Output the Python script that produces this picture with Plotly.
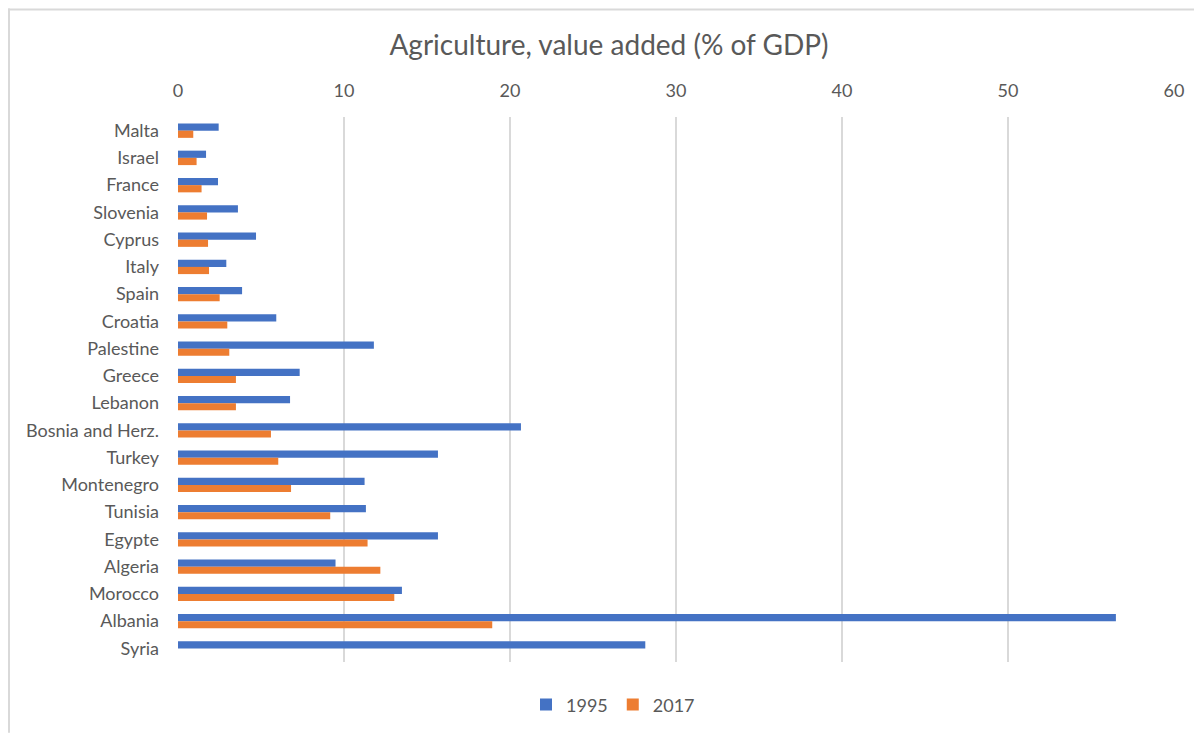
import plotly.graph_objects as go

countries = ["Malta", "Israel", "France", "Slovenia", "Cyprus", "Italy", "Spain", "Croatia",
             "Palestine", "Greece", "Lebanon", "Bosnia and Herz.", "Turkey", "Montenegro",
             "Tunisia", "Egypte", "Algeria", "Morocco", "Albania", "Syria"]
v1995 = [2.45, 1.69, 2.41, 3.61, 4.70, 2.91, 3.86, 5.92, 11.8, 7.33, 6.75, 20.66, 15.66,
         11.24, 11.32, 15.66, 9.49, 13.49, 56.5, 28.15]
v2017 = [0.92, 1.12, 1.42, 1.75, 1.81, 1.87, 2.51, 2.97, 3.09, 3.49, 3.49, 5.60, 6.04,
         6.81, 9.17, 11.42, 12.19, 13.03, 18.93, None]
x_ticks = [0, 10, 20, 30, 40, 50, 60]

# figure is placed at (8, 8) in the page
W, H = 1194, 727
L, T = 170, 109
plot_right, plot_bottom = 1166, 656
R, B = W - plot_right, H - plot_bottom
pw, ph = plot_right - L, plot_bottom - T

def px(x):
    return (x - L) / pw

def py(y):
    return (plot_bottom - y) / ph

fig = go.Figure()
fig.add_trace(go.Bar(y=countries, x=v1995, name="1995", orientation="h",
                     marker=dict(color="#4472C4", line=dict(width=0))))
fig.add_trace(go.Bar(y=countries, x=v2017, name="2017", orientation="h",
                     marker=dict(color="#ED7D31", line=dict(width=0))))

font_color = "#595959"
fig.update_layout(
    width=W, height=H,
    margin=dict(l=L, r=R, t=T, b=B),
    paper_bgcolor="white", plot_bgcolor="white",
    barmode="group", bargap=0.47, bargroupgap=0,
    font=dict(family="Lato, Open Sans, sans-serif", color=font_color, size=18),
    title=dict(text="Agriculture, value added (% of GDP)", xref="container",
               x=601 / W, xanchor="center",
               yref="container", y=1 - 37 / H, yanchor="middle",
               font=dict(size=28, color=font_color)),
    xaxis=dict(side="top", range=[0, 60], tickvals=x_ticks, showgrid=True,
               gridcolor="#D9D9D9", gridwidth=1.5, zeroline=False, showline=False,
               ticks="", ticklabelstandoff=15, tickfont=dict(size=18, color=font_color),
               fixedrange=True),
    yaxis=dict(categoryorder="array", categoryarray=countries, autorange="reversed",
               showgrid=False, zeroline=False, showline=False, ticks="",
               ticklabelstandoff=18, tickfont=dict(size=18, color=font_color)),
    legend=dict(orientation="h", x=px(605), xanchor="center", y=py(699), yanchor="middle",
                font=dict(size=18, color=font_color), itemwidth=30,
                traceorder="normal"),
    showlegend=True,
)

# chart area border (left and top edges visible)
fig.add_shape(type="line", xref="paper", yref="paper",
              x0=px(1), x1=px(1), y0=py(0), y1=py(H),
              line=dict(color="#D9D9D9", width=2))
fig.add_shape(type="line", xref="paper", yref="paper",
              x0=px(0), x1=px(W), y0=py(1), y1=py(1),
              line=dict(color="#D9D9D9", width=2))

fig.write_html("out.html")
